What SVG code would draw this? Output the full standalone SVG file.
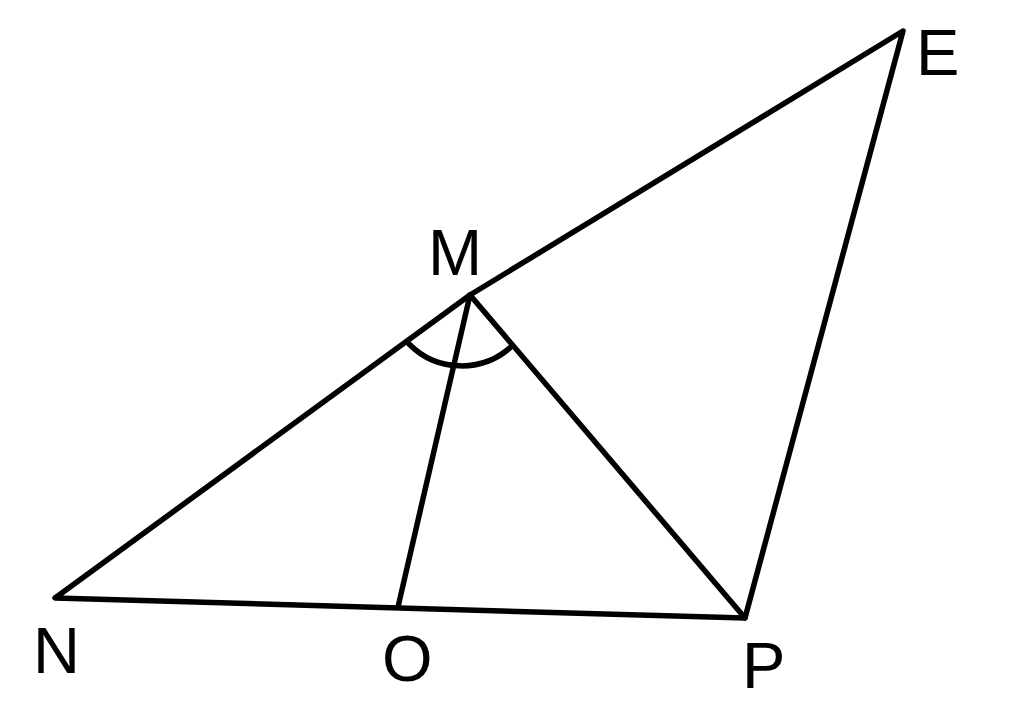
<svg xmlns="http://www.w3.org/2000/svg" width="1024" height="712" viewBox="0 0 1024 712">
<style>
.ln{stroke:#000;stroke-width:5.5;fill:none;stroke-linecap:round;stroke-linejoin:round}
.lb{font-family:"Liberation Sans",Arial,sans-serif;font-size:65px;fill:#000}
</style>
<rect width="1024" height="712" fill="#fff"/>
<g id="connectors">
<path class="ln" d="M470,295 L55,598 L745,618 L903,31 Z"/>
<line class="ln" x1="470" y1="295" x2="398" y2="607"/>
<line class="ln" x1="470" y1="295" x2="745" y2="618"/>
<path class="ln" d="M409,344 A74,74 0 0 0 512,346"/>
</g>
<g id="M"><text class="lb" x="428" y="275">M</text></g>
<g id="N"><text class="lb" x="33" y="673">N</text></g>
<g id="O"><text class="lb" x="382" y="681">O</text></g>
<g id="P"><text class="lb" x="742" y="688">P</text></g>
<g id="E"><text class="lb" x="916" y="75">E</text></g>
</svg>
